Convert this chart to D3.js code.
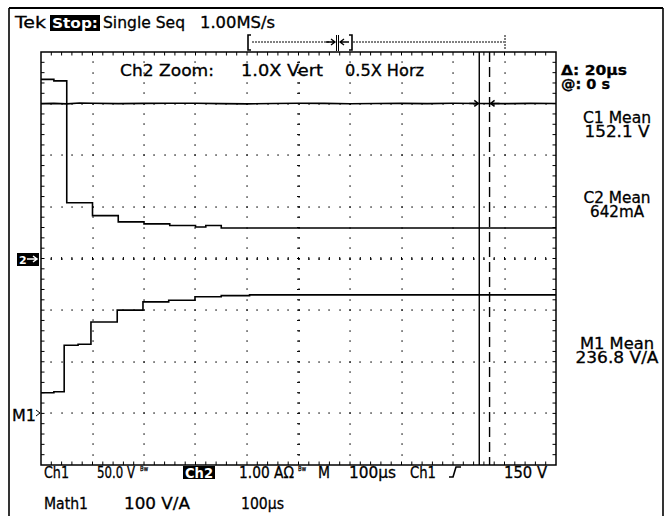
<!DOCTYPE html>
<html>
<head>
<meta charset="utf-8">
<script src="https://cdn.jsdelivr.net/npm/d3@7"></script>
<style>
  body { margin: 0; background: #fff; }
  svg text { font-family: "DejaVu Sans", sans-serif; fill: #000; stroke: #000; stroke-width: 0.3; }
</style>
</head>
<body>
<div id="scope"></div>
<script>
// Tek scope capture: Ch1 voltage, Ch2 current, Math1 = Ch1/Ch2
// time axis in microseconds, 100us/div
var ch1Times = [0, 25, 50, 75, 100, 150, 200, 250, 300, 350, 400, 450, 500, 550, 600, 650, 700, 750, 800, 850, 900, 950, 1000];
var ch1Volts = [150.0, 150.2, 149.8, 150.6, 150.3, 150.0, 150.2, 150.4, 150.3, 150.0, 149.8, 150.1, 150.3, 150.2, 149.9, 150.1, 150.2, 150.0, 150.3, 150.1, 150.0, 150.2, 150.1];

var ch2Times = [0, 25, 50, 100, 150, 200, 250, 300, 320, 350, 1000];
var ch2Amps = [3.47, 3.44, 1.08, 0.83, 0.71, 0.67, 0.64, 0.61, 0.64, 0.59, 0.59];

var m1Times = [0, 25, 45, 72, 97, 148, 198, 248, 299, 350, 405, 1000];
var m1Ohms = [40, 42, 132, 134, 177, 200, 216, 219, 226, 228, 229.5, 229.5];

var cursorTimes = [851, 871];

var topStatus = ["Tek", "Stop:", "Single Seq", "1.00MS/s"];
var zoomLabels = ["Ch2 Zoom:", "1.0X Vert", "0.5X Horz"];
var cursorReadout = ["\u0394: 20\u00b5s", "@: 0 s"];
var meanLabels = ["C1 Mean", "C2 Mean", "M1 Mean"];
var meanValues = ["152.1 V", "642mA", "236.8 V/A"];
var row1Labels = ["Ch1", "50.0 V", "1.00 A\u03a9", "M", "100\u00b5s", "Ch1", "150 V"];
var row2Labels = ["Math1", "100 V/A", "100\u00b5s"];

var W = 667, H = 516;
var margin = { left: 41, right: 111, top: 52, bottom: 51 };

var svg = d3.select("#scope").append("svg")
    .attr("width", W)
    .attr("height", H);

// helper: text squeezed/stretched to the width it has on the print
var label = function (g, str, px, py, size, width, opts) {
    opts = opts || {};
    var t = g.append("text")
        .attr("x", px).attr("y", py)
        .attr("font-size", size)
        .attr("textLength", width)
        .attr("lengthAdjust", "spacingAndGlyphs")
        .text(str);
    if (opts.bold) t.attr("font-weight", "bold");
    if (opts.white) t.style("fill", "#fff").style("stroke", "none");
    return t;
};

// outer frame of the print
svg.append("line").attr("x1", 9).attr("x2", 663).attr("y1", 8).attr("y2", 8)
    .attr("stroke", "#000").attr("stroke-width", 2.2);
svg.append("line").attr("x1", 9).attr("x2", 9).attr("y1", 8).attr("y2", H)
    .attr("stroke", "#000").attr("stroke-width", 1.6);
svg.append("line").attr("x1", 663).attr("x2", 663).attr("y1", 8).attr("y2", H)
    .attr("stroke", "#000").attr("stroke-width", 1.6);

var x = d3.scaleLinear().domain([0, 1000]).range([margin.left, W - margin.right]);
var yDiv = d3.scaleLinear().domain([-4, 4]).range([H - margin.bottom, margin.top]);
var yCh1 = d3.scaleLinear().domain([-200, 200]).range(yDiv.range());
var yCh2 = d3.scaleLinear().domain([-4, 4]).range(yDiv.range());
var yM1 = d3.scaleLinear().domain([-100, 700]).range(yDiv.range());

var grat = svg.append("g").attr("class", "graticule");

// dotted grid lines, a dot every 1/5 division
var dots = [];
d3.range(1, 10).forEach(function (i) {
    d3.range(-19, 20).forEach(function (j) {
        dots.push([x(i * 100), yDiv(j / 5)]);
    });
});
d3.range(-3, 4).forEach(function (j) {
    d3.range(1, 50).forEach(function (k) {
        dots.push([x(k * 20), yDiv(j)]);
    });
});
grat.selectAll("rect.dot").data(dots).enter().append("rect")
    .attr("class", "dot")
    .attr("x", function (d) { return Math.round(d[0]) - 0.6; })
    .attr("y", function (d) { return Math.round(d[1]) - 0.6; })
    .attr("width", 1.3).attr("height", 1.3)
    .attr("fill", "#000");

// edge ticks + centre cross ticks
var ticks = [];
d3.range(1, 50).forEach(function (k) {
    var xx = x(k * 20);
    ticks.push([xx, yDiv(4), xx, yDiv(4) + 3.5]);
    ticks.push([xx, yDiv(-4), xx, yDiv(-4) - 3.5]);
    ticks.push([xx, yDiv(0) - 1.5, xx, yDiv(0) + 1.5]);
});
d3.range(-19, 20).forEach(function (j) {
    var yy = yDiv(j / 5);
    ticks.push([x(0), yy, x(0) + 3.5, yy]);
    ticks.push([x(1000), yy, x(1000) - 3.5, yy]);
    ticks.push([x(500) - 1.5, yy, x(500) + 1.5, yy]);
});
grat.selectAll("line.tick").data(ticks).enter().append("line")
    .attr("class", "tick")
    .attr("x1", function (d) { return d[0]; })
    .attr("y1", function (d) { return d[1]; })
    .attr("x2", function (d) { return d[2]; })
    .attr("y2", function (d) { return d[3]; })
    .attr("stroke", "#000").attr("stroke-width", 1);

grat.append("rect")
    .attr("x", x(0)).attr("y", yDiv(4))
    .attr("width", x(1000) - x(0)).attr("height", yDiv(-4) - yDiv(4))
    .attr("fill", "none").attr("stroke", "#000").attr("stroke-width", 1.5);

// cursors
svg.append("line")
    .attr("x1", x(cursorTimes[0])).attr("x2", x(cursorTimes[0]))
    .attr("y1", yDiv(4)).attr("y2", yDiv(-4))
    .attr("stroke", "#000").attr("stroke-width", 1.4);
svg.append("line")
    .attr("x1", x(cursorTimes[1])).attr("x2", x(cursorTimes[1]))
    .attr("y1", yDiv(4)).attr("y2", yDiv(-4))
    .attr("stroke", "#000").attr("stroke-width", 1.4)
    .attr("stroke-dasharray", "10,5");

// traces
var ch1Line = d3.line()
    .x(function (d, i) { return x(ch1Times[i]); })
    .y(function (d) { return yCh1(d); });
var ch2Line = d3.line()
    .curve(d3.curveStepAfter)
    .x(function (d, i) { return x(ch2Times[i]); })
    .y(function (d) { return yCh2(d); });
var m1Line = d3.line()
    .curve(d3.curveStepAfter)
    .x(function (d, i) { return x(m1Times[i]); })
    .y(function (d) { return yM1(d); });

var traces = svg.append("g").attr("class", "traces")
    .attr("fill", "none").attr("stroke", "#000").attr("stroke-width", 1.6);
traces.append("path").attr("d", ch1Line(ch1Volts));
traces.append("path").attr("d", ch2Line(ch2Amps));
traces.append("path").attr("d", m1Line(m1Ohms));

// cursor arrows on Ch1
var yArrow = yCh1(150.2);
var arrowPath = function (tip, dir) {
    return "M" + (tip - dir * 9) + "," + yArrow + "L" + tip + "," + yArrow +
        "M" + (tip - dir * 4) + "," + (yArrow - 3) + "L" + tip + "," + yArrow +
        "L" + (tip - dir * 4) + "," + (yArrow + 3);
};
svg.append("path").attr("d", arrowPath(x(cursorTimes[0]) - 1, 1))
    .attr("fill", "none").attr("stroke", "#000").attr("stroke-width", 1.5);
svg.append("path").attr("d", arrowPath(x(cursorTimes[1]) + 1, -1))
    .attr("fill", "none").attr("stroke", "#000").attr("stroke-width", 1.5);

// record position bar on top
var bar = svg.append("g").attr("stroke", "#000").attr("fill", "none");
var yb = 42;
bar.append("path").attr("d", "M251,35 L248,35 L248,50 L251,50").attr("stroke-width", 1.6);
bar.append("line").attr("x1", 252).attr("x2", 330).attr("y1", yb).attr("y2", yb)
    .attr("stroke-width", 1).attr("stroke-dasharray", "2,1");
bar.append("path").attr("d", "M326,42 L335,42 M331,39 L335,42 L331,45").attr("stroke-width", 1.3);
bar.append("line").attr("x1", 336.5).attr("x2", 336.5).attr("y1", 35).attr("y2", 51).attr("stroke-width", 1);
bar.append("line").attr("x1", 338.5).attr("x2", 338.5).attr("y1", 35).attr("y2", 51).attr("stroke-width", 1);
bar.append("path").attr("d", "M349,42 L340,42 M344,39 L340,42 L344,45").attr("stroke-width", 1.3);
bar.append("path").attr("d", "M349,35 L352,35 L352,50 L349,50").attr("stroke-width", 1.6);
bar.append("line").attr("x1", 353).attr("x2", 504).attr("y1", yb).attr("y2", yb)
    .attr("stroke-width", 1).attr("stroke-dasharray", "2,1");
bar.append("line").attr("x1", 505).attr("x2", 505).attr("y1", 35).attr("y2", 50)
    .attr("stroke-width", 1).attr("stroke-dasharray", "2,1");

var txt = svg.append("g").attr("class", "labels");

// status line
label(txt, topStatus[0], 15, 28, 15, 31);
txt.append("rect").attr("x", 50).attr("y", 15).attr("width", 50).attr("height", 16).attr("fill", "#000");
label(txt, topStatus[1], 52, 28, 14, 46, { bold: true, white: true });
label(txt, topStatus[2], 103, 28, 15, 82);
label(txt, topStatus[3], 200, 28, 15, 75);

// zoom labels
var zoomPos = [[120, 94], [241, 82], [345, 79]];
zoomLabels.forEach(function (s, i) {
    label(txt, s, zoomPos[i][0], 76, 15, zoomPos[i][1]);
});

// right readouts
label(txt, cursorReadout[0], 561, 75, 14, 66, { bold: true });
label(txt, cursorReadout[1], 561, 89, 14, 49, { bold: true });

var meanPos = [
    { y: 123, w1: 68, w2: 65 },
    { y: 203, w1: 67, w2: 54 },
    { y: 349, w1: 74, w2: 83 }
];
meanLabels.forEach(function (s, i) {
    var p = meanPos[i];
    label(txt, s, 617 - p.w1 / 2, p.y, 15, p.w1);
    label(txt, meanValues[i], 617 - p.w2 / 2, p.y + 14, 15, p.w2);
});

// left ground markers
svg.append("rect").attr("x", 17).attr("y", 253).attr("width", 22).attr("height", 13).attr("fill", "#000");
svg.append("text").attr("x", 19).attr("y", 264).attr("font-size", 11).attr("font-weight", "bold")
    .style("fill", "#fff").style("stroke", "none").text("2");
svg.append("path").attr("d", "M27,259 L37,259 M33,256 L37,259 L33,262")
    .attr("fill", "none").attr("stroke", "#fff").attr("stroke-width", 1.5);
label(txt, "M1", 12, 421, 15, 24);
svg.append("path").attr("d", "M36,410 L40,413 L36,416")
    .attr("fill", "none").attr("stroke", "#000").attr("stroke-width", 1);

// bottom settings
var row1Pos = [[44, 25], [97, 38], [239, 55], [318, 12], [349, 47], [410, 26], [504, 43]];
row1Labels.forEach(function (s, i) {
    label(txt, s, row1Pos[i][0], 478, 15, row1Pos[i][1]);
});
[140, 298].forEach(function (bx) {
    label(txt, "Bw", bx, 471, 7, 8);
});
txt.append("rect").attr("x", 183).attr("y", 466).attr("width", 32).attr("height", 13).attr("fill", "#000");
label(txt, "Ch2", 185, 478, 14, 28, { bold: true, white: true });
svg.append("path").attr("d", "M449,477 L453,477 L456,467 L461,467")
    .attr("fill", "none").attr("stroke", "#000").attr("stroke-width", 1.6);

var row2Pos = [[44, 44], [124, 66], [241, 43]];
row2Labels.forEach(function (s, i) {
    label(txt, s, row2Pos[i][0], 509, 15, row2Pos[i][1]);
});
</script>
</body>
</html>
